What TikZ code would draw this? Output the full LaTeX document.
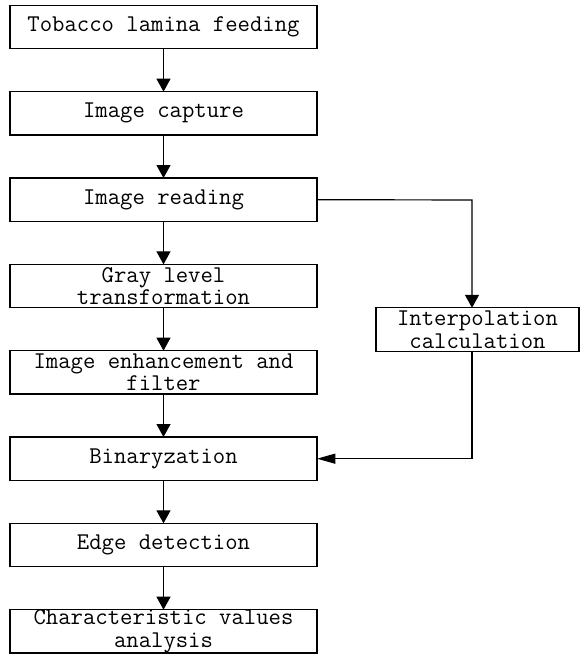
\documentclass[tikz,border=0pt]{standalone}
\usepackage{fontspec}
\usepackage{tikz}
\usetikzlibrary{positioning, arrows.meta}
\tikzset{box/.style={draw, rectangle, minimum width=9.21cm, minimum height=1.3cm,
        inner sep=0pt, outer sep=0pt, align=center, font=\ttfamily\fontsize{20.5}{19.3}\selectfont},
    flow/.style={draw, -{Triangle[length=0.39cm, width=0.42cm]}},
    side/.style={draw, -{Triangle[length=0.55cm, width=0.3cm]}}}

\begin{document}
\begin{tikzpicture}[x=0.03cm, y=-0.03cm, node distance=1.29cm, line width=1pt]
        \useasboundingbox (0,0) rectangle (580,654);
        \node[box] (feed) at (163.5,27) {Tobacco lamina feeding};
        \node[box, below=of feed] (capture) {Image capture};
        \node[box, below=of capture] (reading) {Image reading};
        \node[box, below=of reading] (gray) {Gray level\\transformation};
        \node[box, below=of gray] (enhance) {Image enhancement and\\filter};
        \node[box, below=of enhance] (binary) {Binaryzation};
        \node[box, below=of binary] (edge) {Edge detection};
        \node[box, below=of edge] (analysis) {Characteristic values\\analysis};
        \node[box, minimum width=6.09cm] (interp) at (477.5,329.5) {Interpolation\\calculation};
        \coordinate (turn) at (472,200);
        \foreach \a/\b in {feed/capture, capture/reading, reading/gray, gray/enhance,
            enhance/binary, binary/edge, edge/analysis}
            \draw[flow] (\a) -- (\b);
        \draw[flow] (reading.east) -- (turn) -- (turn |- interp.north);
        \draw[side] (turn |- interp.south) -- (turn |- binary) -- (binary.east);
    \end{tikzpicture}
\end{document}
